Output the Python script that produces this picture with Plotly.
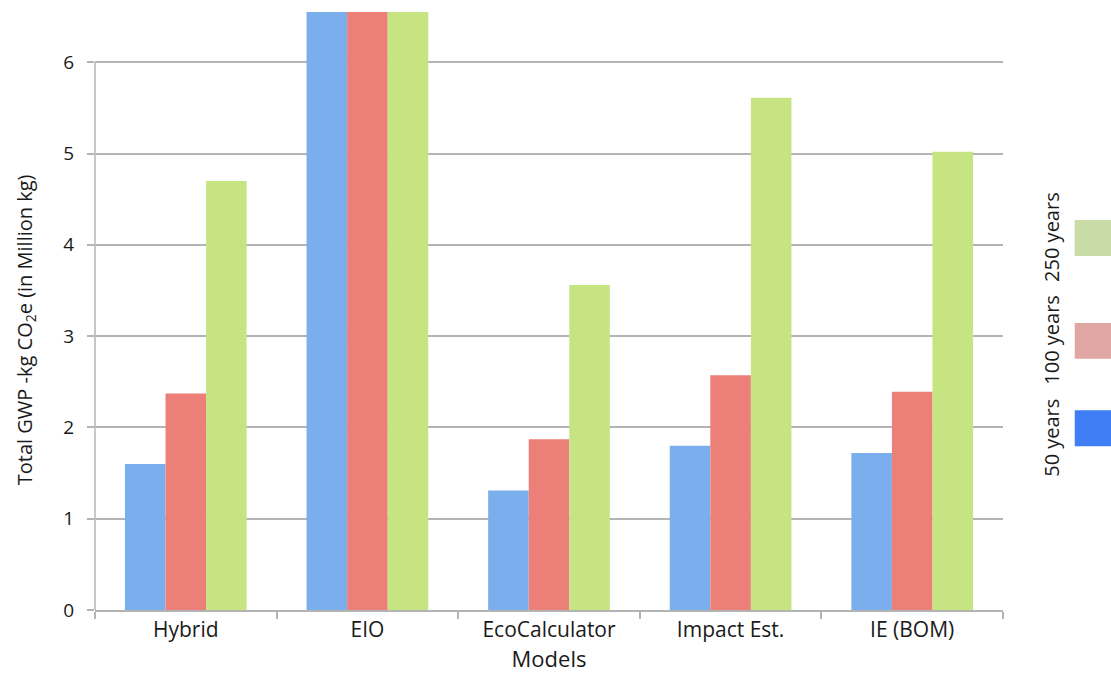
import plotly.graph_objects as go

models = ["Hybrid", "EIO", "EcoCalculator", "Impact Est.", "IE (BOM)"]
series_names = ["50 years", "100 years", "250 years"]
vals_50 = [1.60, 7.5, 1.31, 1.80, 1.72]
vals_100 = [2.37, 7.5, 1.87, 2.57, 2.39]
vals_250 = [4.70, 7.5, 3.56, 5.61, 5.02]
bar_colors = ["#7aaeec", "#ec7f78", "#c6e482"]
legend_colors = ["#3f7ef5", "#e0a6a4", "#c9dba6"]
y_ticks = [0, 1, 2, 3, 4, 5, 6]

FONT = "Open Sans"
fig = go.Figure()
for name, vals, col in zip(series_names, [vals_50, vals_100, vals_250], bar_colors):
    fig.add_trace(go.Bar(x=models, y=vals, name=name, marker=dict(color=col, line=dict(width=0)),
                         showlegend=False))

grid = "#b4b4b4"
fig.update_layout(
    width=1111, height=677,
    margin=dict(l=95, r=108, t=12, b=67, autoexpand=False),
    plot_bgcolor="white", paper_bgcolor="white",
    barmode="group", bargap=0.33, bargroupgap=0,
    font=dict(family=FONT, size=18, color="#1a1a1a"),
    xaxis=dict(showline=True, linecolor=grid, linewidth=1.5, ticks="outside", tickson="boundaries",
               ticklen=7, tickcolor=grid, tickwidth=1.5, tickfont=dict(size=21),
               title=dict(text="Models", font=dict(size=22), standoff=4)),
    yaxis=dict(range=[0, 6.55], tickvals=y_ticks, showgrid=True, gridcolor=grid, gridwidth=1.5,
               showline=False, zeroline=False, ticks="outside", ticklen=7, tickcolor=grid, tickwidth=1.5,
               tickfont=dict(size=19), ticklabelstandoff=9),
    showlegend=False,
)
# y axis line only up to the top tick
fig.add_shape(type="line", xref="paper", yref="y", x0=0, x1=0, y0=0, y1=max(y_ticks),
              line=dict(color=grid, width=1.5))

fig.add_annotation(text="Total GWP -kg CO<sub>2</sub>e (in Million kg)", xref="paper", yref="paper",
                   x=-0.077, y=0.468, textangle=-90, showarrow=False, font=dict(size=20),
                   xanchor="center", yanchor="middle")

# custom legend (vertical text + swatches)
sw_y = [0.304, 0.450, 0.622]
txt_y = [0.288, 0.452, 0.624]
for name, col, sy, ty in zip(series_names, legend_colors, sw_y, txt_y):
    fig.add_shape(type="rect", xref="paper", yref="paper", x0=1.079, x1=1.13,
                  y0=sy - 0.030, y1=sy + 0.030, fillcolor=col, line=dict(width=0))
    fig.add_annotation(text=name, xref="paper", yref="paper", x=1.054, y=ty, textangle=-90,
                       showarrow=False, font=dict(size=20), xanchor="center", yanchor="middle")

fig.write_html("out.html", config={"displayModeBar": False},
               post_script="document.body.style.margin='0';")
